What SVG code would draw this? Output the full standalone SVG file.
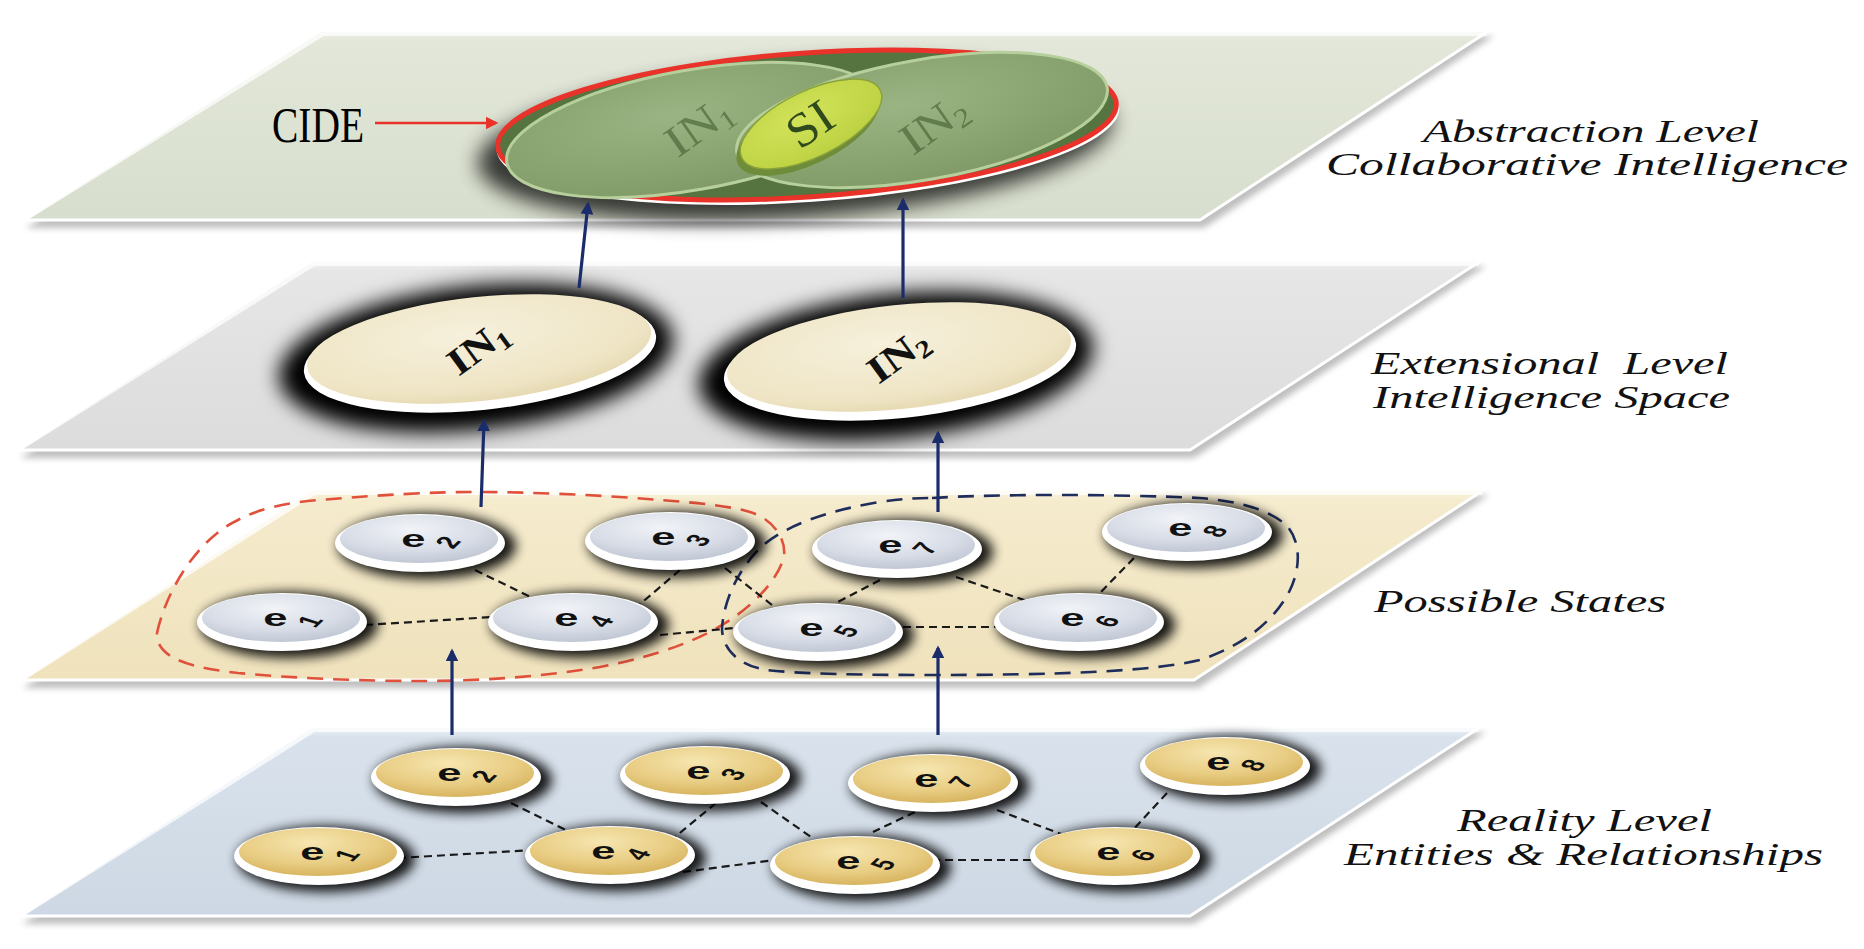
<svg xmlns="http://www.w3.org/2000/svg" xmlns:xlink="http://www.w3.org/1999/xlink" width="1864" height="949" viewBox="0 0 1864 949">
<style>
.lbl{font-family:"Liberation Serif","Times New Roman",serif;font-style:italic;font-size:31px;fill:#111}
.el{font-family:"Liberation Sans",Arial,sans-serif;font-weight:bold;font-size:30px;fill:#111}
.dg{font-size:22px}
.inl{font-family:"Liberation Serif","Times New Roman",serif;font-weight:bold;font-size:38px;fill:#111}
.cin{font-family:"Liberation Serif","Times New Roman",serif;font-size:44px;fill:#3a5628;opacity:0.55}
.edge{stroke:#1a1a1a;stroke-width:2.2;stroke-dasharray:8 5;fill:none}
.arrow{stroke:#1b2c6b;stroke-width:3.2;fill:none;marker-end:url(#ah)}
.plane{stroke:#ffffff;stroke-width:3;stroke-linejoin:round}
.pshadow{fill:#8a8a8a;opacity:0.55}
.hl{fill:none;stroke:#ffffff;stroke-opacity:0.75;stroke-width:6}
</style>
<defs>
<filter id="b3" x="-20%" y="-40%" width="140%" height="180%"><feGaussianBlur stdDeviation="3"/></filter>
<filter id="b6" x="-30%" y="-80%" width="160%" height="260%"><feGaussianBlur stdDeviation="6"/></filter>
<filter id="b10" x="-30%" y="-80%" width="160%" height="260%"><feGaussianBlur stdDeviation="10"/></filter>
<marker id="ah" viewBox="0 0 10 10" refX="8" refY="5" markerWidth="4" markerHeight="4" orient="auto"><path d="M0,0 L10,5 L0,10 z" fill="#1b2c6b"/></marker>
<marker id="ahr" viewBox="0 0 10 10" refX="8" refY="5" markerWidth="5" markerHeight="5" orient="auto"><path d="M0,0 L10,5 L0,10 z" fill="#e8322a"/></marker>
<linearGradient id="gP1" x1="0" y1="0" x2="0" y2="1"><stop offset="0" stop-color="#eef1e8"/><stop offset="0.06" stop-color="#e2e7d9"/><stop offset="1" stop-color="#d8decd"/></linearGradient>
<linearGradient id="gP2" x1="0" y1="0" x2="0" y2="1"><stop offset="0" stop-color="#f2f2f2"/><stop offset="0.06" stop-color="#e6e6e6"/><stop offset="1" stop-color="#dcdcdc"/></linearGradient>
<linearGradient id="gP3" x1="0" y1="0" x2="0" y2="1"><stop offset="0" stop-color="#fbf5e2"/><stop offset="0.06" stop-color="#f5ebcd"/><stop offset="1" stop-color="#efe2bc"/></linearGradient>
<linearGradient id="gP4" x1="0" y1="0" x2="0" y2="1"><stop offset="0" stop-color="#eaf0f6"/><stop offset="0.06" stop-color="#d9e2ec"/><stop offset="1" stop-color="#cdd8e4"/></linearGradient>
<radialGradient id="gSil" cx="45%" cy="30%" r="75%"><stop offset="0" stop-color="#f1f3f7"/><stop offset="0.6" stop-color="#d7dce6"/><stop offset="1" stop-color="#bcc3d0"/></radialGradient>
<radialGradient id="gGold" cx="45%" cy="30%" r="75%"><stop offset="0" stop-color="#f6e6b0"/><stop offset="0.6" stop-color="#e8cc82"/><stop offset="1" stop-color="#d4b059"/></radialGradient>
<radialGradient id="gCream" cx="45%" cy="35%" r="75%"><stop offset="0" stop-color="#f6f0dc"/><stop offset="0.7" stop-color="#efe5c5"/><stop offset="1" stop-color="#e0d1a6"/></radialGradient>
<radialGradient id="gIn" cx="45%" cy="35%" r="75%"><stop offset="0" stop-color="#9ab583"/><stop offset="1" stop-color="#7c9762"/></radialGradient>
<radialGradient id="gSI" cx="45%" cy="35%" r="75%"><stop offset="0" stop-color="#d3e35a"/><stop offset="1" stop-color="#b9cf3f"/></radialGradient>
<g id="nodeS">
<ellipse cx="7" cy="3" rx="89" ry="33" fill="#000" opacity="0.9" filter="url(#b6)"/>
<ellipse rx="85" ry="29" fill="#ffffff"/>
<ellipse cx="-1" cy="-4" rx="79" ry="24" fill="url(#gSil)"/>
</g>
<g id="nodeG">
<ellipse cx="7" cy="3" rx="89" ry="33" fill="#000" opacity="0.9" filter="url(#b6)"/>
<ellipse rx="85" ry="29" fill="#ffffff"/>
<ellipse cx="-1" cy="-4" rx="79" ry="24" fill="url(#gGold)"/>
</g>
</defs>

<rect width="1864" height="949" fill="#ffffff"/>

<!-- Planes -->
<g id="plane-abstraction">
<polygon class="pshadow" points="325,36 1494,36 1204,228 26,228" filter="url(#b3)"/>
<polygon class="plane" fill="url(#gP1)" points="321,30 1490,30 1200,220 24,220"/>
<polyline class="hl" points="27,217 323,33 1487,33"/>
</g>
<g id="plane-extensional">
<polygon class="pshadow" points="316,266 1486,266 1194,458 20,458" filter="url(#b3)"/>
<polygon class="plane" fill="url(#gP2)" points="312,260 1482,260 1190,450 18,450"/>
<polyline class="hl" points="21,447 314,263 1479,263"/>
</g>
<g id="plane-states">
<polygon class="pshadow" points="316,495 1489,495 1198,688 23,688" filter="url(#b3)"/>
<polygon class="plane" fill="url(#gP3)" points="312,489 1485,489 1194,680 21,680"/>
<polyline class="hl" points="24,677 314,492 1482,492"/>
</g>
<g id="plane-reality">
<polygon class="pshadow" points="316,732 1486,732 1194,924 22,924" filter="url(#b3)"/>
<polygon class="plane" fill="url(#gP4)" points="312,726 1482,726 1190,916 20,916"/>
<polyline class="hl" points="23,913 314,729 1479,729"/>
</g>

<!-- Labels -->
<g id="label-abstraction">
<text class="lbl" x="1423" y="142" textLength="336" lengthAdjust="spacingAndGlyphs">Abstraction Level</text>
<text class="lbl" x="1326" y="175" textLength="522" lengthAdjust="spacingAndGlyphs">Collaborative Intelligence</text>
</g>
<g id="label-extensional">
<text class="lbl" x="1371" y="374" textLength="357" lengthAdjust="spacingAndGlyphs" xml:space="preserve">Extensional  Level</text>
<text class="lbl" x="1373" y="408" textLength="357" lengthAdjust="spacingAndGlyphs">Intelligence Space</text>
</g>
<g id="label-states">
<text class="lbl" x="1374" y="612" textLength="292" lengthAdjust="spacingAndGlyphs">Possible States</text>
</g>
<g id="label-reality">
<text class="lbl" x="1457" y="831" textLength="255" lengthAdjust="spacingAndGlyphs">Reality Level</text>
<text class="lbl" x="1344" y="865" textLength="479" lengthAdjust="spacingAndGlyphs">Entities &amp; Relationships</text>
</g>

<!-- CIDE -->
<g id="cide">
<ellipse cx="795" cy="142" rx="318" ry="76" transform="rotate(-4 795 142)" fill="#000" opacity="0.75" filter="url(#b10)"/>
<ellipse cx="808" cy="129" rx="312" ry="73" transform="rotate(-4 808 129)" fill="#ffffff"/>
<ellipse cx="807" cy="125" rx="310" ry="72" transform="rotate(-4 807 125)" fill="#55743f" stroke="#e8322a" stroke-width="5"/>
<ellipse cx="692" cy="130" rx="188" ry="60" transform="rotate(-10 692 130)" fill="url(#gIn)" stroke="#b7cf9c" stroke-width="3"/>
<ellipse cx="922" cy="120" rx="188" ry="60" transform="rotate(-10 922 120)" fill="url(#gIn)" stroke="#b7cf9c" stroke-width="3"/>
<text class="cin" transform="translate(700,128) rotate(-35) scale(1.2,1)" text-anchor="middle" dy="12">IN<tspan font-size="27" dy="6">1</tspan></text>
<text class="cin" transform="translate(935,126) rotate(-35) scale(1.2,1)" text-anchor="middle" dy="12">IN<tspan font-size="27" dy="6">2</tspan></text>
<ellipse cx="808" cy="130" rx="78" ry="34" transform="rotate(-26 808 130)" fill="#6f8c3a"/>
<ellipse cx="811" cy="124" rx="77" ry="33" transform="rotate(-26 811 124)" fill="url(#gSI)" stroke="#8aa23a" stroke-width="1.5"/>
<text style="font-family:'Liberation Serif','Times New Roman',serif;font-size:48px;fill:#2f4a1c" transform="translate(810,124) rotate(-34) scale(1.1,1)" text-anchor="middle" dy="16">SI</text>
</g>
<g id="cide-label">
<text style="font-family:'Liberation Serif','Times New Roman',serif;font-size:50px;fill:#000" x="272" y="142" textLength="92" lengthAdjust="spacingAndGlyphs">CIDE</text>
<line x1="375" y1="123" x2="496" y2="123" stroke="#e8322a" stroke-width="2.5" marker-end="url(#ahr)"/>
</g>

<!-- Intelligence nodes -->
<g id="IN1">
<ellipse cx="476" cy="358" rx="198" ry="72" transform="rotate(-6 476 358)" fill="#000" filter="url(#b10)"/>
<ellipse cx="480" cy="354" rx="177" ry="56" transform="rotate(-6 480 354)" fill="#ffffff"/>
<ellipse cx="479" cy="349" rx="173" ry="52" transform="rotate(-6 479 349)" fill="url(#gCream)"/>
<text class="inl" transform="translate(478,348) rotate(-36) scale(1.2,1)" text-anchor="middle" dy="12">IN<tspan font-size="25" dy="6">1</tspan></text>
</g>
<g id="IN2">
<ellipse cx="896" cy="366" rx="198" ry="72" transform="rotate(-6 896 366)" fill="#000" filter="url(#b10)"/>
<ellipse cx="900" cy="362" rx="177" ry="56" transform="rotate(-6 900 362)" fill="#ffffff"/>
<ellipse cx="899" cy="357" rx="173" ry="52" transform="rotate(-6 899 357)" fill="url(#gCream)"/>
<text class="inl" transform="translate(898,356) rotate(-36) scale(1.2,1)" text-anchor="middle" dy="12">IN<tspan font-size="25" dy="6">2</tspan></text>
</g>

<!-- Group boundaries -->
<g id="group-red">
<path d="M157,633 C165,595 195,540 238,520 C260,508 290,502 320,500 C380,495 430,492 475,492 C530,492 600,495 660,500 C700,503 730,506 750,512 C775,520 786,540 784,556 C780,575 760,600 730,620 C700,640 660,655 600,667 C540,677 480,681 420,681 C360,681 290,678 238,673 C195,668 160,660 157,637 Z" fill="none" stroke="#e0503a" stroke-width="2.6" stroke-dasharray="16 10"/>
</g>
<g id="group-blue">
<path d="M932,498 C990,494 1120,494 1199,498 C1240,501 1268,510 1285,524 C1300,538 1302,565 1290,590 C1275,620 1245,645 1200,660 C1150,672 1050,675 932,675 C860,675 800,674 767,670 C740,666 722,650 722,628 C724,600 738,570 760,548 C785,525 830,510 880,502 C900,499 915,498 932,498 Z" fill="none" stroke="#1e2d5c" stroke-width="2.6" stroke-dasharray="16 10"/>
</g>

<!-- Connectors -->
<g id="connectors">
<line class="edge" x1="475" y1="570" x2="541" y2="602"/>
<line class="edge" x1="680" y1="570" x2="639" y2="605"/>
<line class="edge" x1="365" y1="625" x2="493" y2="617"/>
<line class="edge" x1="725" y1="568" x2="772" y2="605"/>
<line class="edge" x1="660" y1="635" x2="734" y2="628"/>
<line class="edge" x1="880" y1="580" x2="838" y2="602"/>
<line class="edge" x1="903" y1="627" x2="997" y2="627"/>
<line class="edge" x1="956" y1="577" x2="1033" y2="603"/>
<line class="edge" x1="1134" y1="558" x2="1095" y2="598"/>
<line class="edge" x1="511" y1="803" x2="580" y2="837"/>
<line class="edge" x1="716" y1="803" x2="675" y2="837"/>
<line class="edge" x1="398" y1="858" x2="535" y2="850"/>
<line class="edge" x1="761" y1="802" x2="811" y2="837"/>
<line class="edge" x1="683" y1="872" x2="775" y2="860"/>
<line class="edge" x1="915" y1="812" x2="873" y2="832"/>
<line class="edge" x1="932" y1="860" x2="1033" y2="860"/>
<line class="edge" x1="997" y1="810" x2="1069" y2="837"/>
<line class="edge" x1="1167" y1="793" x2="1131" y2="832"/>
</g>

<!-- Possible states nodes -->
<g id="s-e1" transform="translate(282,622)"><use xlink:href="#nodeS"/><text class="el" transform="scale(1.45,0.8)" x="-13" y="5">e<tspan class="dg" dx="19" dy="3" rotate="-60">1</tspan></text></g>
<g id="s-e2" transform="translate(420,543)"><use xlink:href="#nodeS"/><text class="el" transform="scale(1.45,0.8)" x="-13" y="5">e<tspan class="dg" dx="19" dy="3" rotate="-60">2</tspan></text></g>
<g id="s-e3" transform="translate(670,541)"><use xlink:href="#nodeS"/><text class="el" transform="scale(1.45,0.8)" x="-13" y="5">e<tspan class="dg" dx="19" dy="3" rotate="-60">3</tspan></text></g>
<g id="s-e4" transform="translate(573,622)"><use xlink:href="#nodeS"/><text class="el" transform="scale(1.45,0.8)" x="-13" y="5">e<tspan class="dg" dx="19" dy="3" rotate="-60">4</tspan></text></g>
<g id="s-e5" transform="translate(818,632)"><use xlink:href="#nodeS"/><text class="el" transform="scale(1.45,0.8)" x="-13" y="5">e<tspan class="dg" dx="19" dy="3" rotate="-60">5</tspan></text></g>
<g id="s-e6" transform="translate(1079,622)"><use xlink:href="#nodeS"/><text class="el" transform="scale(1.45,0.8)" x="-13" y="5">e<tspan class="dg" dx="19" dy="3" rotate="-60">6</tspan></text></g>
<g id="s-e7" transform="translate(897,549)"><use xlink:href="#nodeS"/><text class="el" transform="scale(1.45,0.8)" x="-13" y="5">e<tspan class="dg" dx="19" dy="3" rotate="-60">7</tspan></text></g>
<g id="s-e8" transform="translate(1187,532)"><use xlink:href="#nodeS"/><text class="el" transform="scale(1.45,0.8)" x="-13" y="5">e<tspan class="dg" dx="19" dy="3" rotate="-60">8</tspan></text></g>

<!-- Reality nodes -->
<g id="r-e1" transform="translate(319,856)"><use xlink:href="#nodeG"/><text class="el" transform="scale(1.45,0.8)" x="-13" y="5">e<tspan class="dg" dx="19" dy="3" rotate="-60">1</tspan></text></g>
<g id="r-e2" transform="translate(456,777)"><use xlink:href="#nodeG"/><text class="el" transform="scale(1.45,0.8)" x="-13" y="5">e<tspan class="dg" dx="19" dy="3" rotate="-60">2</tspan></text></g>
<g id="r-e3" transform="translate(705,775)"><use xlink:href="#nodeG"/><text class="el" transform="scale(1.45,0.8)" x="-13" y="5">e<tspan class="dg" dx="19" dy="3" rotate="-60">3</tspan></text></g>
<g id="r-e4" transform="translate(610,855)"><use xlink:href="#nodeG"/><text class="el" transform="scale(1.45,0.8)" x="-13" y="5">e<tspan class="dg" dx="19" dy="3" rotate="-60">4</tspan></text></g>
<g id="r-e5" transform="translate(855,865)"><use xlink:href="#nodeG"/><text class="el" transform="scale(1.45,0.8)" x="-13" y="5">e<tspan class="dg" dx="19" dy="3" rotate="-60">5</tspan></text></g>
<g id="r-e6" transform="translate(1115,856)"><use xlink:href="#nodeG"/><text class="el" transform="scale(1.45,0.8)" x="-13" y="5">e<tspan class="dg" dx="19" dy="3" rotate="-60">6</tspan></text></g>
<g id="r-e7" transform="translate(933,783)"><use xlink:href="#nodeG"/><text class="el" transform="scale(1.45,0.8)" x="-13" y="5">e<tspan class="dg" dx="19" dy="3" rotate="-60">7</tspan></text></g>
<g id="r-e8" transform="translate(1225,766)"><use xlink:href="#nodeG"/><text class="el" transform="scale(1.45,0.8)" x="-13" y="5">e<tspan class="dg" dx="19" dy="3" rotate="-60">8</tspan></text></g>

<!-- Arrows between levels -->
<g id="arrows">
<line class="arrow" x1="579" y1="288" x2="588" y2="204"/>
<line class="arrow" x1="903" y1="298" x2="903" y2="200"/>
<line class="arrow" x1="481" y1="507" x2="484" y2="421"/>
<line class="arrow" x1="938" y1="512" x2="938" y2="433"/>
<line class="arrow" x1="452" y1="735" x2="452" y2="651"/>
<line class="arrow" x1="938" y1="735" x2="938" y2="648"/>
</g>
</svg>
